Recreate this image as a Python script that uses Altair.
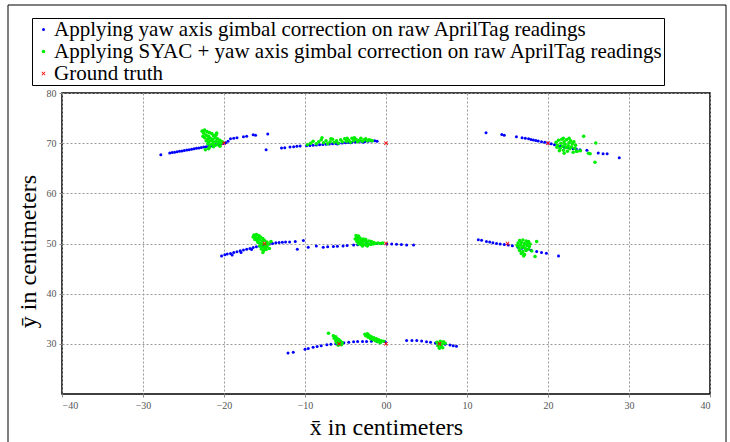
import altair as alt
import pandas as pd

SERIES = [
    "Applying yaw axis gimbal correction on raw AprilTag readings",
    "Applying SYAC + yaw axis gimbal correction on raw AprilTag readings",
    "Ground truth",
]
COLORS = ["#0000ff", "#00ee00", "#ff0000"]

# Blue: yaw axis gimbal correction only
blue_x = [
    # row 70 left
    -27.8, -26.7, -26.4, -26.1, -25.8, -25.5, -25.2, -24.9, -24.6, -24.3, -24.0, -23.7,
    -23.4, -23.1, -22.8, -22.5, -22.2, -21.9, -21.6, -21.3, -21.0, -20.7, -20.4, -20.1,
    -19.8, -19.5, -19.2, -18.8, -18.4, -17.6, -17.2, -16.4, -16.1, -14.6, -14.8,
    # row 70 middle
    -12.9, -12.5, -11.85, -11.4, -11.0, -10.6, -9.8, -9.4, -9.0, -8.6, -8.2, -7.8, -7.4,
    -7.0, -6.6, -6.2, -5.8, -5.4, -5.0, -4.6, -4.2, -3.8, -3.4, -3.0, -2.6, -2.2, -1.8,
    -1.4, -1.1, -6.0, -4.4, -2.8,
    # row 70 right
    12.35, 14.3, 14.6, 16.1, 16.8, 17.2, 17.6, 17.9, 18.2, 18.5, 18.8, 19.2, 19.6, 20.0,
    20.4, 20.8, 21.2, 21.5, 22.0, 22.5, 23.1, 23.5, 23.95, 24.8, 26.2, 26.8, 27.3, 28.8,
    # row 50 left
    -20.3, -19.9, -19.6, -19.2, -18.8, -18.4, -18.0, -17.6, -17.2, -16.8, -16.4, -16.0,
    -15.6, -15.2, -14.8, -14.4, -14.0, -13.6, -13.2, -12.8, -12.4, -11.9, -11.2, -10.2,
    -10.95, -9.6, -19.0, -17.9, -16.6,
    # row 50 middle
    -8.6, -7.75, -7.2, -6.5, -6.0, -5.3, -4.8, -4.0, -3.5, -3.0, -2.4, -1.9, -1.15, -0.6,
    0.1, 0.7, 1.3, 1.9, 2.55, 3.4,
    # row 50 right
    11.4, 11.8, 12.4, 12.8, 13.2, 13.65, 14.1, 14.6, 15.1, 15.6, 16.3, 16.8, 17.4, 17.9,
    18.6, 19.2, 19.8, 21.3,
    # row 30
    -12.1, -11.45, -10.0, -9.6, -9.0, -8.5, -8.0, -7.3, -6.8, -6.2, -5.7, -5.2, -4.6,
    -4.0, -3.5, -2.9, -2.4, -1.8, -1.15, -0.6, -0.1, 2.55, 3.2, 3.8, 4.4, 5.0, 5.5, 6.1,
    6.7, 7.3, 7.9, 8.3, 8.7,
]
blue_y = [
    67.7, 68.05, 68.15, 68.2, 68.3, 68.4, 68.45, 68.55, 68.65, 68.7, 68.8, 68.9,
    69.0, 69.05, 69.15, 69.25, 69.3, 69.4, 69.5, 69.6, 69.7, 69.75, 69.85, 69.95,
    70.1, 70.4, 70.9, 71.0, 71.1, 71.3, 71.4, 71.7, 71.6, 71.85, 68.7,
    69.05, 69.1, 69.25, 69.3, 69.4, 69.45, 69.5, 69.55, 69.6, 69.65, 69.7, 69.75, 69.8,
    69.85, 69.9, 69.95, 70.0, 70.05, 70.1, 70.15, 70.2, 70.25, 70.3, 70.3, 70.35, 70.4,
    70.45, 70.5, 70.4, 69.85, 70.1, 70.2,
    72.1, 71.75, 71.6, 71.3, 71.1, 71.0, 70.9, 70.75, 70.65, 70.55, 70.45, 70.3, 70.2,
    70.05, 69.9, 69.7, 69.55, 69.4, 69.2, 69.1, 68.9, 68.85, 68.7, 68.6, 68.05, 67.9,
    67.9, 67.1,
    47.5, 47.75, 47.9, 48.0, 48.2, 48.35, 48.55, 48.7, 48.85, 49.0, 49.2, 49.35,
    49.5, 49.65, 49.75, 49.9, 50.0, 50.15, 50.2, 50.25, 50.3, 50.3, 50.4, 50.6,
    48.85, 49.25, 47.7, 48.2, 48.8,
    49.5, 49.25, 49.35, 49.4, 49.45, 49.5, 49.6, 49.7, 49.75, 49.8, 49.9, 49.95, 50.0,
    50.0, 49.9, 49.9, 49.85, 49.8, 49.7, 49.7,
    50.75, 50.65, 50.4, 50.3, 50.15, 50.0, 49.9, 49.8, 49.7, 49.55, 49.25, 49.05, 48.85,
    48.65, 48.4, 48.2, 48.05, 47.5,
    28.15, 28.3, 28.9, 29.05, 29.3, 29.45, 29.6, 29.8, 29.9, 30.0, 30.1, 30.2, 30.3,
    30.4, 30.45, 30.45, 30.45, 30.5, 30.5, 30.45, 30.4, 30.65, 30.65, 30.65, 30.55, 30.4,
    30.3, 30.15, 30.0, 29.9, 29.75, 29.6, 29.5,
]

# Green: SYAC + yaw axis gimbal correction
green_x = [
    # row 70 left
    -22.7, -22.4, -22.1, -22.5, -21.8, -21.5, -22.2, -21.9, -21.3, -21.0, -22.4, -22.0,
    -21.7, -21.4, -21.1, -20.8, -20.5, -22.2, -21.9, -21.6, -21.3, -21.0, -20.7, -20.4,
    -22.0, -21.7, -21.4, -21.1, -20.8, -20.5, -21.8, -21.3, -22.3, -21.9, -20.2, -22.6,
    -20.9,
    # row 70 middle
    -9.7, -9.3, -9.0, -8.6, -8.3, -8.0, -7.7, -7.4, -7.2, -6.9, -6.6, -6.4, -6.1, -5.9,
    -5.6, -5.4, -5.1, -4.9, -4.6, -4.4, -4.2, -4.0, -3.7, -3.5, -3.3, -3.1, -2.9, -2.7,
    -2.5, -2.3, -2.1, -1.9, -1.7, -3.9, -4.8, -6.8, -7.9,
    # row 70 right
    21.0, 21.2, 21.3, 21.5, 21.6, 21.7, 21.8, 21.9, 22.0, 22.1, 22.2, 22.3, 22.4, 22.5,
    22.6, 22.7, 22.8, 22.9, 23.0, 23.1, 23.2, 23.3, 23.4, 21.4, 22.0, 22.6, 21.1, 23.5,
    21.9, 22.3, 24.4, 25.9, 25.0, 25.2, 25.8, 23.6, 24.0,
    # row 50 left
    -16.3, -16.0, -15.7, -16.4, -16.1, -15.8, -15.5, -15.2, -16.2, -15.9, -15.6, -15.3,
    -15.0, -14.7, -15.8, -15.5, -15.2, -14.9, -14.5, -15.6, -15.3, -15.0, -14.7, -15.4,
    -15.1, -14.8, -15.2, -14.4, -14.2,
    # row 50 middle
    -3.7, -3.4, -3.6, -3.2, -3.8, -3.5, -3.1, -2.8, -2.5, -3.6, -3.3, -3.0, -2.7, -2.4,
    -2.1, -1.8, -1.5, -3.4, -3.1, -2.8, -2.5, -2.2, -1.9, -1.6, -1.3, -1.0, -0.7, -0.4,
    -2.9, -2.3,
    # row 50 right
    16.5, 16.9, 17.3, 17.6, 16.3, 16.7, 17.1, 17.5, 17.8, 16.2, 16.6, 17.0, 17.4, 17.7,
    16.4, 16.8, 17.2, 17.6, 16.5, 16.9, 17.3, 16.7, 17.1, 17.0, 18.6, 18.4, 18.0,
    # row 30
    -7.1, -6.5, -6.2, -6.4, -6.0, -5.8, -6.2, -5.9, -5.6, -6.1, -5.8, -5.5, -5.9, -5.4,
    -2.6, -2.3, -2.5, -2.1, -1.8, -2.2, -1.5, -1.9, -1.2, -1.6, -0.9, -1.3, -0.6, -1.0,
    -0.3, -0.7,
    6.3, 6.7, 7.1, 6.5, 6.9, 7.3, 6.4, 6.8, 6.6, 7.0,
]
green_y = [
    72.4, 72.6, 72.3, 72.0, 72.1, 71.9, 71.6, 71.4, 71.5, 71.6, 71.1, 70.9,
    71.0, 70.8, 71.1, 70.9, 70.6, 70.5, 70.3, 70.5, 70.2, 70.4, 70.2, 70.0,
    69.9, 69.7, 69.8, 69.6, 69.7, 69.4, 69.2, 69.3, 68.7, 68.9, 70.3, 71.4,
    72.0,
    69.7, 70.0, 70.4, 69.9, 70.3, 70.7, 70.1, 70.5, 69.9, 70.3, 70.8, 70.2, 70.5, 70.0,
    70.7, 70.3, 70.9, 70.4, 70.6, 70.2, 71.0, 70.5, 70.8, 70.3, 70.6, 71.0, 70.4, 70.7,
    70.9, 70.5, 70.7, 70.6, 70.5, 71.1, 71.0, 70.9, 71.1,
    70.2, 69.6, 70.6, 69.0, 70.0, 70.8, 69.4, 68.6, 70.3, 69.8, 69.1, 70.7, 68.4, 69.5,
    70.1, 68.9, 70.5, 69.3, 69.9, 68.2, 70.3, 69.0, 69.6, 68.5, 68.0, 71.0, 69.2, 68.4,
    71.0, 69.2, 71.4, 70.05, 68.0, 67.9, 66.2, 68.4, 68.5,
    51.7, 51.8, 51.6, 51.3, 51.2, 51.1, 51.3, 51.0, 50.8, 50.6, 50.7, 50.5,
    50.6, 50.3, 50.2, 50.0, 49.9, 49.8, 49.9, 49.5, 49.3, 49.2, 49.4, 48.9,
    48.6, 48.8, 48.2, 49.0, 50.4,
    51.6, 51.5, 51.2, 51.1, 50.9, 50.8, 50.7, 50.9, 50.8, 50.4, 50.3, 50.4, 50.5, 50.3,
    50.5, 50.4, 50.2, 49.9, 49.8, 49.9, 49.7, 49.9, 49.8, 49.9, 50.0, 50.1, 50.0, 50.1,
    49.5, 49.5,
    50.6, 50.7, 50.5, 50.4, 50.1, 50.2, 50.0, 50.1, 49.9, 49.6, 49.7, 49.5, 49.6, 49.4,
    49.1, 49.2, 49.0, 48.9, 48.6, 48.4, 48.6, 48.0, 47.8, 47.5, 50.4, 47.4, 48.5,
    32.1, 31.6, 31.4, 31.1, 31.0, 30.8, 30.6, 30.4, 30.5, 30.2, 30.0, 29.8, 29.7, 30.2,
    31.9, 32.0, 31.6, 31.7, 31.4, 31.3, 31.2, 31.0, 31.0, 30.8, 30.8, 30.6, 30.6, 30.4,
    30.5, 30.2,
    30.3, 30.5, 30.4, 30.0, 29.9, 30.1, 29.6, 29.5, 29.1, 29.2,
]

# Red: ground truth
truth_x = [-20, 0, 20, -15, 0, 15, -5.8, 0, 6.6]
truth_y = [70, 70, 70, 50, 50, 50, 30, 30, 30]

df = pd.concat([
    pd.DataFrame({"x": blue_x, "y": blue_y, "series": SERIES[0]}),
    pd.DataFrame({"x": green_x, "y": green_y, "series": SERIES[1]}),
    pd.DataFrame({"x": truth_x, "y": truth_y, "series": SERIES[2]}),
], ignore_index=True)

X_SHAPE = "M-1,-0.7L-0.7,-1L0,-0.3L0.7,-1L1,-0.7L0.3,0L1,0.7L0.7,1L0,0.3L-0.7,1L-1,0.7L-0.3,0Z"
FONT = "Liberation Serif"

legend = alt.Legend(
    title=None, orient="none", legendX=-30, legendY=-75,
    strokeColor="black", fillColor="white", padding=1,
    labelFont=FONT, labelFontSize=21, labelColor="black", labelLimit=0,
    labelOffset=0, symbolSize=34, rowPadding=0, symbolStrokeWidth=0,
)

points = alt.Chart(df).mark_point(filled=True, opacity=1).encode(
    x=alt.X("x:Q", scale=alt.Scale(domain=[-40, 40], nice=False, zero=False),
            axis=alt.Axis(values=list(range(-40, 41, 10)),
                          labelExpr="datum.value == 0 ? '00' : datum.label",
                          title="x̄ in centimeters", titleFont=FONT, titleFontSize=24,
                          titleFontWeight="normal", titleColor="black",
                          titleBaseline="alphabetic", titleY=40,
                          labelFont=FONT, labelFontSize=10, labelColor="#555555",
                          labelPadding=3, tickSize=3, tickColor="#888888",
                          grid=True, gridDash=[2, 2], gridColor="#999999",
                          domain=False)),
    y=alt.Y("y:Q", scale=alt.Scale(domain=[20, 80], nice=False, zero=False),
            axis=alt.Axis(values=list(range(30, 81, 10)),
                          title="ȳ in centimeters", titleFont=FONT, titleFontSize=24,
                          titleFontWeight="normal", titleColor="black",
                          titleBaseline="middle", titleX=-34, titleY=158,
                          labelFont=FONT, labelFontSize=10, labelColor="#555555",
                          labelPadding=3, tickSize=3, tickColor="#888888",
                          grid=True, gridDash=[2, 2], gridColor="#999999",
                          domain=False)),
    color=alt.Color("series:N", scale=alt.Scale(domain=SERIES, range=COLORS), legend=legend),
    shape=alt.Shape("series:N", scale=alt.Scale(domain=SERIES, range=["circle", "circle", X_SHAPE]),
                    legend=legend),
    size=alt.Size("series:N", scale=alt.Scale(domain=SERIES, range=[9, 16, 110]), legend=None),
)

frame = alt.Chart(pd.DataFrame({"k": [0]})).mark_rect(
    fill=None, stroke="black", strokeWidth=1
).encode(x=alt.value(-54), x2=alt.value(664), y=alt.value(-88), y2=alt.value(380))

chart = alt.layer(frame, points).properties(
    width=648, height=301,
    padding={"left": 62, "top": 93, "right": 20, "bottom": 48},
    autosize=alt.AutoSizeParams(type="none"),
).configure_view(stroke="black", strokeWidth=1.5)

chart.save("out.html", embed_options={"renderer": "svg", "actions": False})
